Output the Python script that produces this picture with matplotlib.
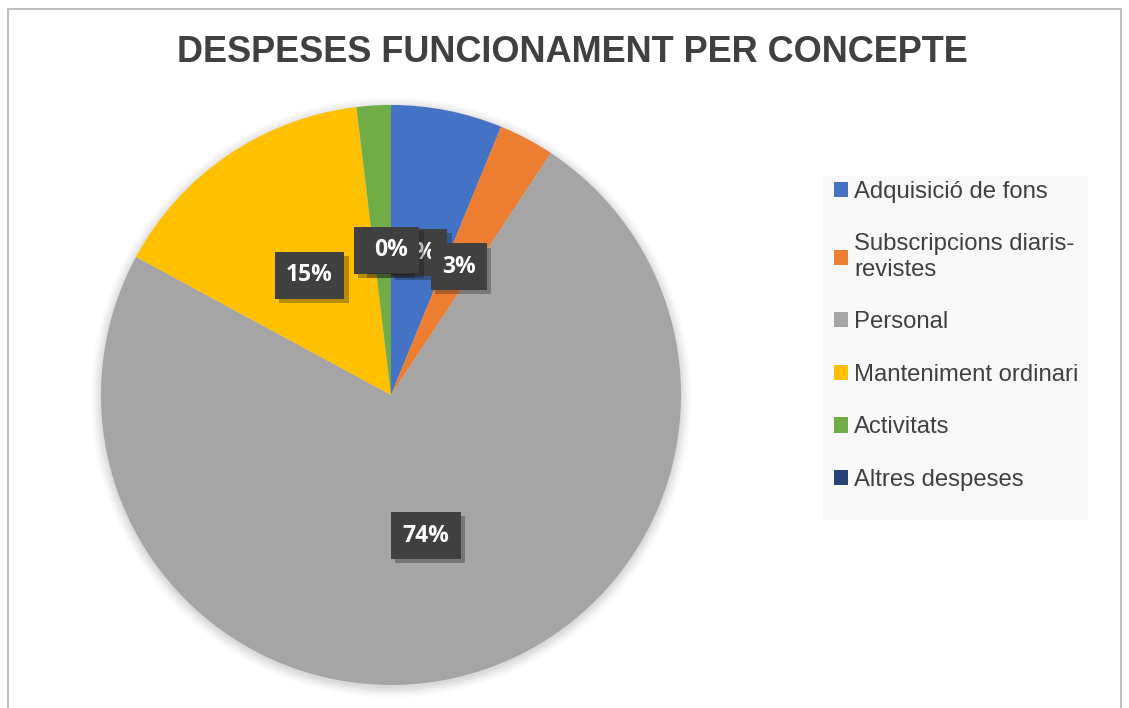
import matplotlib
matplotlib.use('Agg')
import matplotlib.pyplot as plt
import matplotlib.patheffects as pe
from matplotlib.patches import Rectangle, Patch

# data
categories = ['Adquisició de fons', 'Subscripcions diaris-\nrevistes', 'Personal',
              'Manteniment ordinari', 'Activitats', 'Altres despeses']
values = [6.2, 3.1, 73.6, 15.2, 1.9, 0.0]
colors = ['#4472C4', '#ED7D31', '#A5A5A5', '#FFC000', '#70AD47', '#264478']
title = 'DESPESES FUNCIONAMENT PER CONCEPTE'

W, H = 1129, 708
fig = plt.figure(figsize=(W / 100, H / 100), dpi=100)
fig.patch.set_facecolor('white')

# chart border
fig.patches.append(Rectangle((8 / W, -0.01), (1121 - 8) / W, (H - 9) / H + 0.01,
                             transform=fig.transFigure, fill=False,
                             edgecolor='#bfbfbf', lw=1.5))
# legend background
fig.patches.append(Rectangle((823 / W, 1 - 520 / H), (1088 - 823) / W, (520 - 176) / H,
                             transform=fig.transFigure, facecolor='#f8f8f8',
                             edgecolor='none'))

cx, cy, r = 391, 395, 290
ax = fig.add_axes([(cx - r) / W, (H - cy - r) / H, 2 * r / W, 2 * r / H])
ax.axis('off')

# soft shadow behind the pie
for k, a in enumerate([0.02, 0.025, 0.03, 0.035, 0.04]):
    ax.add_patch(plt.Circle((0.0, -0.008), 1.035 - k * 0.008, color='black', alpha=a,
                            lw=0, zorder=0, clip_on=False))

wedges, texts, autotexts = ax.pie(values, colors=colors, startangle=90, counterclock=False,
                                  radius=1, autopct='%1.0f%%', pctdistance=0.5,
                                  wedgeprops=dict(linewidth=0),
                                  textprops=dict(color='white', fontsize=16.5,
                                                 weight='bold', family='Open Sans'))
ax.set_xlim(-1, 1)
ax.set_ylim(-1, 1)

for t in autotexts:
    t.set_bbox(dict(boxstyle='square,pad=0.5', facecolor='#404040', edgecolor='none'))
    t.get_bbox_patch().set_path_effects([pe.SimplePatchShadow(offset=(3, -3), alpha=0.3),
                                         pe.Normal()])

fig.text(572 / W, 1 - 52 / H, title, ha='center', va='center', fontsize=26,
         weight='bold', family='Liberation Sans', color='#404040')

handles = [Patch(facecolor=c, edgecolor='none') for c in colors]
leg = fig.legend(handles, categories, loc='upper left',
                 bbox_to_anchor=(829 / W, 1 - 176 / H), frameon=False,
                 prop=dict(family='Liberation Sans', size=17.2),
                 labelcolor='#404040', handlelength=0.6, handleheight=0.6,
                 handletextpad=0.25, labelspacing=1.28, borderpad=0.2,
                 borderaxespad=0)

fig.savefig('out.png', dpi=100)
